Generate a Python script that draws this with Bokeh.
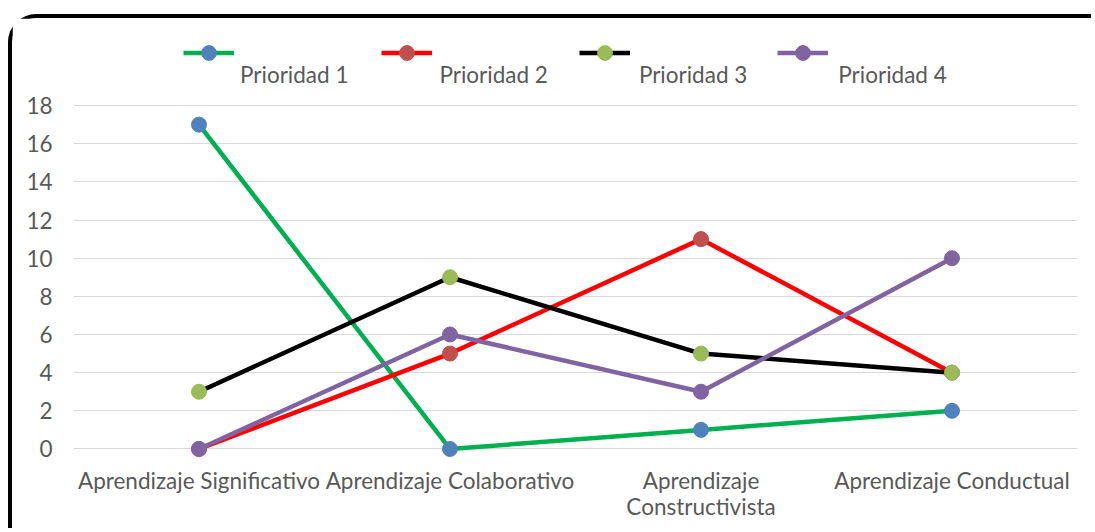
from bokeh.plotting import figure
from bokeh.models import (Range1d, FixedTicker, Legend, LegendItem, LinearAxis)
from bokeh.embed import file_html
from bokeh.resources import INLINE

categories = ["Aprendizaje Significativo", "Aprendizaje Colaborativo",
              "Aprendizaje Constructivista", "Aprendizaje Conductual"]
# category labels as shown, split in lines
label_line_1 = ["Aprendizaje Significativo", "Aprendizaje Colaborativo",
                "Aprendizaje", "Aprendizaje Conductual"]
label_line_2 = ["", "", "Constructivista", ""]
series_names = ["Prioridad 1", "Prioridad 2", "Prioridad 3", "Prioridad 4"]
prioridad_1 = [17, 0, 1, 2]
prioridad_2 = [0, 5, 11, 4]
prioridad_3 = [3, 9, 5, 4]
prioridad_4 = [0, 6, 3, 10]
y_ticks = [0, 2, 4, 6, 8, 10, 12, 14, 16, 18]

series_values = [prioridad_1, prioridad_2, prioridad_3, prioridad_4]
line_colors = ["#00B050", "#FF0000", "#000000", "#8064A2"]
marker_colors = ["#4F81BD", "#C0504D", "#9BBB59", "#8064A2"]

# category slots: centre of each unit band
x_pos = [i + 0.5 for i in range(len(categories))]

FONT = "Lato"
FS = "22.5px"
TXT = "#595959"

p = figure(width=1083, height=514,
           x_range=Range1d(0, len(categories)), y_range=Range1d(-0.5, 22.04),
           x_axis_location=None,
           output_backend="svg", toolbar_location=None,
           min_border_left=61, min_border_right=18,
           min_border_top=10, min_border_bottom=74)
p.styles = {"border-top": "4px solid black", "border-left": "4px solid black",
            "border-top-left-radius": "28px",
            "margin-top": "14px", "margin-left": "8px"}
p.outline_line_color = None
p.xgrid.grid_line_color = None
p.ygrid.grid_line_color = "#D9D9D9"
p.ygrid.grid_line_width = 1
p.yaxis.ticker = FixedTicker(ticks=y_ticks)

x1 = LinearAxis(ticker=FixedTicker(ticks=x_pos),
                major_label_overrides={x: t for x, t in zip(x_pos, label_line_1) if t})
x2 = LinearAxis(ticker=FixedTicker(ticks=[x for x, t in zip(x_pos, label_line_2) if t]),
                major_label_overrides={x: t for x, t in zip(x_pos, label_line_2) if t})
p.add_layout(x1, "below")
p.add_layout(x2, "below")


def style_axis(ax):
    ax.axis_line_color = None
    ax.major_tick_line_color = None
    ax.minor_tick_line_color = None
    ax.major_tick_out = 0
    ax.major_tick_in = 0
    ax.major_label_text_font = FONT
    ax.major_label_text_font_size = FS
    ax.major_label_text_color = TXT


style_axis(p.yaxis[0])
style_axis(x1)
style_axis(x2)
p.yaxis.major_label_standoff = 21
x1.major_label_standoff = 8
x2.major_label_standoff = -4

items_glyph = []
items_text = []
for name, vals, lc, mc in zip(series_names, series_values, line_colors, marker_colors):
    lr = p.line(x_pos, vals, line_color=lc, line_width=4.5)
    sr = p.scatter(x_pos, vals, size=15, fill_color=mc, line_color=mc)
    items_glyph.append(LegendItem(label="", renderers=[lr, sr]))
    items_text.append(LegendItem(label=name, renderers=[lr, sr]))

common = dict(orientation="horizontal", padding=0, margin=0,
              border_line_alpha=0, background_fill_alpha=0,
              label_text_font=FONT, label_text_font_size=FS,
              label_text_color=TXT, label_standoff=0)

legend_glyphs = Legend(items=items_glyph, location=(110, 387.5),
                       glyph_width=51, glyph_height=37, label_height=20,
                       label_width=0, spacing=147, **common)
legend_texts = Legend(items=items_text, location=(167, 369),
                      glyph_width=0, glyph_height=30, label_height=30,
                      label_width=108, spacing=91, **common)
p.add_layout(legend_glyphs, "center")
p.add_layout(legend_texts, "center")

open("out.html", "w").write(file_html(p, INLINE))
